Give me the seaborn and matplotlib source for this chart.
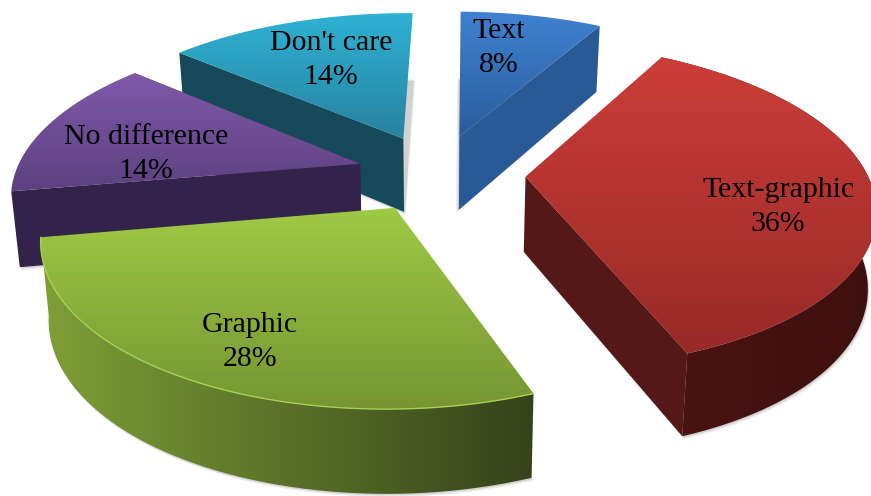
import numpy as np
import matplotlib
matplotlib.use("Agg")
import matplotlib.pyplot as plt
from matplotlib.patches import Polygon
import seaborn as sns

categories = ["Text", "Text-graphic", "Graphic", "No difference", "Don't care"]
shares = [8, 36, 28, 14, 14]

top_colors = [("#3f82d2", "#2b5c9a"), ("#cc3d38", "#982a28"), ("#9fca45", "#769532"),
              ("#8059aa", "#5c4180"), ("#2fb2d4", "#27829f")]
wall_colors = [None, ("#4a1412", "#3d100e"), ("#7f9f36", "#35421a"), None, None]
rim_colors = [None, None, "#a9cf55", None, None]
cut_colors = ["#2a5a96", "#541816", "#7f9f36", "#33234a", "#164a5a"]
# which radial faces can be seen: (leading edge, trailing edge)
cut_visible = [(False, True), (False, True), (False, False), (True, True), (True, False)]
label_xy = [(499, 48), (778, 207), (250, 342), (146, 154), (331, 60)]
explode = [0.25, 0.255, 0.24, 0.235, 0.25]
slice_scale = [1.0, 0.99, 0.97, 1.0, 1.0]

# Projection of the tilted disc onto the canvas
CX, CY, RADIUS, SQUASH, PERSP = 437.5, 173.5, 345, 0.46, 0.175
DEPTH, DEPTH_SLOPE, CONVERGE, START_DEG = 0.2174, 0.11, 0.98, 0.9


def project(x, y, lower=False):
    w = 1 - PERSP * y
    px = RADIUS * x / w
    py = RADIUS * SQUASH * y / w
    if lower:
        px = px * CONVERGE
        py = py + RADIUS * DEPTH * (1 + DEPTH_SLOPE * y)
    return np.column_stack([CX + px, CY + py])


def fill_gradient(ax, poly, colors, vertical, z):
    cmap = sns.blend_palette(colors, as_cmap=True)
    ramp = np.linspace(0, 1, 256)
    ramp = ramp[:, None] if vertical else ramp[None, :]
    lo, hi = poly.min(axis=0), poly.max(axis=0)
    img = ax.imshow(ramp, cmap=cmap, aspect="auto", zorder=z,
                    extent=(lo[0], hi[0], hi[1], lo[1]), origin="upper", interpolation="bilinear")
    img.set_clip_path(Polygon(poly, transform=ax.transData))


sns.set_style("white")
fig, ax = plt.subplots(figsize=(8.71, 4.96), dpi=100)
ax.set_position([0, 0, 1, 1])
ax.axis("off")

edges = np.radians(np.cumsum([0] + shares) * 3.6 + START_DEG)
slices = list(zip(edges[:-1], edges[1:]))
z = 1
for i in [4, 0, 3, 1, 2]:
    a, b = slices[i]
    mid = (a + b) / 2
    ox, oy = explode[i] * np.sin(mid), -explode[i] * np.cos(mid)
    th = np.linspace(a, b, 120)
    x, y = ox + slice_scale[i] * np.sin(th), oy - slice_scale[i] * np.cos(th)
    apex_top = project(np.array([ox]), np.array([oy]))
    apex_bot = project(np.array([ox]), np.array([oy]), lower=True)
    rim_top = project(x, y)
    rim_bot = project(x, y, lower=True)

    # soft drop shadow cast by the underside of the slice
    underside = np.vstack([apex_bot, rim_bot])
    for grow, alpha in [(3.0, 0.10), (1.5, 0.18)]:
        ax.add_patch(Polygon(underside + [-grow if i == 0 else grow * 0.6, grow], closed=True,
                             fc="#555555", ec="none", alpha=alpha, zorder=z))
        z += 1

    ends = [(rim_top[:1], rim_bot[:1]), (rim_top[-1:], rim_bot[-1:])]
    for (rim_t, rim_b), visible in zip(ends, cut_visible[i]):
        if visible:
            cut = np.vstack([apex_top, rim_t, rim_b, apex_bot])
            ax.add_patch(Polygon(cut, closed=True, fc=cut_colors[i], ec="none", zorder=z))
            z += 1
    if wall_colors[i] is not None:
        fill_gradient(ax, np.vstack([rim_top, rim_bot[::-1]]), wall_colors[i], False, z)
        z += 1
    fill_gradient(ax, np.vstack([apex_top, rim_top]), top_colors[i], True, z)
    z += 1
    if rim_colors[i] is not None:
        ax.plot(rim_top[:, 0], rim_top[:, 1], color=rim_colors[i], lw=1.0, zorder=z)
        z += 1

ax.set_xlim(0, 871)
ax.set_ylim(496, 0)

for name, share, (lx, ly) in zip(categories, shares, label_xy):
    ax.text(lx, ly, f"{name}\n{share}%", ha="center", va="center", zorder=2000,
            family="Liberation Serif", fontsize=21.5, color="#000000", linespacing=1.42)

fig.savefig("out.png", dpi=100)
